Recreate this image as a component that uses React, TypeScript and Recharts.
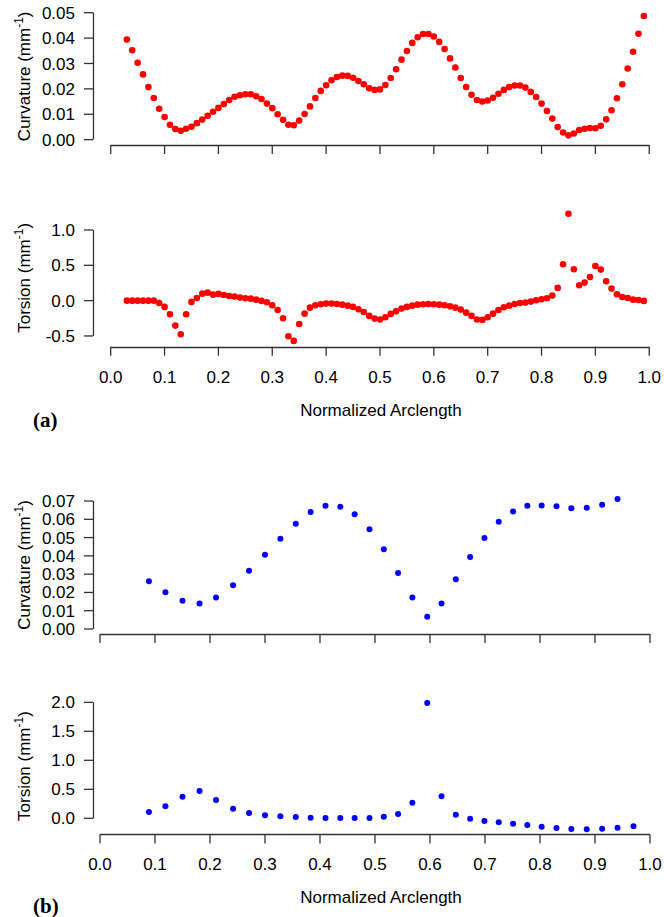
import React from "react";
import { ScatterChart, Scatter, XAxis, YAxis } from "recharts";

// (a) – sampled every 0.01 of normalized arclength
const ARC_A = [
  0.03, 0.04, 0.05, 0.06, 0.07, 0.08, 0.09, 0.1, 0.11, 0.12, 0.13, 0.14, 0.15, 0.16, 0.17, 0.18, 0.19,
  0.2, 0.21, 0.22, 0.23, 0.24, 0.25, 0.26, 0.27, 0.28, 0.29, 0.3, 0.31, 0.32, 0.33, 0.34, 0.35, 0.36,
  0.37, 0.38, 0.39, 0.4, 0.41, 0.42, 0.43, 0.44, 0.45, 0.46, 0.47, 0.48, 0.49, 0.5, 0.51, 0.52, 0.53,
  0.54, 0.55, 0.56, 0.57, 0.58, 0.59, 0.6, 0.61, 0.62, 0.63, 0.64, 0.65, 0.66, 0.67, 0.68, 0.69, 0.7,
  0.71, 0.72, 0.73, 0.74, 0.75, 0.76, 0.77, 0.78, 0.79, 0.8, 0.81, 0.82, 0.83, 0.84, 0.85, 0.86, 0.87,
  0.88, 0.89, 0.9, 0.91, 0.92, 0.93, 0.94, 0.95, 0.96, 0.97, 0.98, 0.99,
];

const CURV_A = [
  0.0394, 0.0352, 0.0303, 0.0257, 0.0207, 0.0164, 0.0122, 0.0089, 0.0059, 0.0042, 0.0035, 0.0043,
  0.0051, 0.0065, 0.0079, 0.0094, 0.011, 0.0125, 0.014, 0.0156, 0.0169, 0.0175, 0.0179, 0.0179,
  0.0171, 0.016, 0.0142, 0.0124, 0.01, 0.0078, 0.0059, 0.0057, 0.0075, 0.0101, 0.0131, 0.0164,
  0.0192, 0.0214, 0.0234, 0.0247, 0.0252, 0.0251, 0.0244, 0.0231, 0.0218, 0.0202, 0.0196, 0.0198,
  0.0215, 0.0243, 0.0277, 0.0315, 0.0349, 0.0381, 0.0403, 0.0416, 0.0416, 0.0406, 0.0385, 0.0357,
  0.032, 0.0284, 0.0243, 0.0207, 0.0177, 0.0156, 0.015, 0.0154, 0.0165, 0.0181, 0.0196, 0.0207,
  0.0213, 0.0213, 0.0205, 0.0188, 0.0168, 0.0142, 0.0113, 0.0083, 0.005, 0.0028, 0.0017, 0.0024,
  0.0038, 0.0043, 0.0046, 0.0045, 0.0055, 0.008, 0.0116, 0.0163, 0.0218, 0.028, 0.0346, 0.0417,
  0.0487,
];

const TORS_A = [
  0, 0, 0, 0, 0, 0, -0.033, -0.089, -0.193, -0.353, -0.476, -0.193, -0.018, 0.038, 0.099, 0.113,
  0.085, 0.095, 0.08, 0.066, 0.057, 0.043, 0.033, 0.028, 0.014, -0.004, -0.023, -0.066, -0.132,
  -0.25, -0.504, -0.57, -0.33, -0.184, -0.099, -0.066, -0.052, -0.042, -0.042, -0.047, -0.057,
  -0.071, -0.089, -0.122, -0.16, -0.216, -0.254, -0.268, -0.235, -0.188, -0.15, -0.113, -0.089,
  -0.071, -0.057, -0.052, -0.047, -0.052, -0.057, -0.066, -0.08, -0.099, -0.127, -0.17, -0.216,
  -0.268, -0.273, -0.235, -0.184, -0.132, -0.094, -0.071, -0.047, -0.033, -0.028, -0.014, 0.005,
  0.019, 0.033, 0.071, 0.18, 0.515, 1.23, 0.444, 0.217, 0.255, 0.335, 0.49, 0.439, 0.274, 0.17,
  0.09, 0.052, 0.038, 0.014, 0.01, -0.004,
];

// (b) – coarser sampling; torsion has one extra sample at the end
const ARC_B = [
  0.089, 0.119, 0.15, 0.181, 0.211, 0.242, 0.271, 0.3, 0.328, 0.356, 0.383, 0.41, 0.437, 0.463,
  0.49, 0.516, 0.542, 0.568, 0.595, 0.621, 0.647, 0.673, 0.699, 0.725, 0.751, 0.777, 0.803, 0.83,
  0.857, 0.885, 0.913, 0.941, 0.97,
];

const CURV_B = [
  0.0261, 0.0201, 0.0155, 0.014, 0.0173, 0.0239, 0.0319, 0.0406, 0.0494, 0.0576, 0.064, 0.0674,
  0.0669, 0.0627, 0.0545, 0.0436, 0.0306, 0.0173, 0.0067, 0.014, 0.0272, 0.0394, 0.0498, 0.0587,
  0.0642, 0.0674, 0.0676, 0.0671, 0.066, 0.0663, 0.068, 0.0711,
];

const TORS_B = [
  0.109, 0.207, 0.373, 0.471, 0.316, 0.166, 0.091, 0.052, 0.034, 0.022, 0.011, 0.005, 0.005, 0.005,
  0.005, 0.028, 0.074, 0.269, 1.99, 0.379, 0.063, -0.006, -0.047, -0.069, -0.093, -0.116, -0.144,
  -0.167, -0.184, -0.19, -0.179, -0.162, -0.138,
];

const X_TICKS = [0, 0.1, 0.2, 0.3, 0.4, 0.5, 0.6, 0.7, 0.8, 0.9, 1.0];
const CURV_A_TICKS = [0, 0.01, 0.02, 0.03, 0.04, 0.05];
const TORS_A_TICKS = [-0.5, 0, 0.5, 1.0];
const CURV_B_TICKS = [0, 0.01, 0.02, 0.03, 0.04, 0.05, 0.06, 0.07];
const TORS_B_TICKS = [0, 0.5, 1.0, 1.5, 2.0];

const AXIS = "#333";
const AXIS_W = 1.3;
const FONT = "'Liberation Sans', Arial, Helvetica, sans-serif";

const pairs = (xs: number[], ys: number[]) => ys.map((y, i) => ({ x: xs[i], y }));

// rotated axis title (mm^-1)
function YTitle({ viewBox, text }: any) {
  const cy = Number(viewBox?.y ?? 0) + Number(viewBox?.height ?? 0) / 2;
  return (
    <text transform={`translate(30,${cy}) rotate(-90)`} textAnchor="middle" fill="#000" fontSize={17}>
      {text} (mm
      <tspan dy={-7} fontSize={12}>-1</tspan>
      <tspan dy={7}>)</tspan>
    </text>
  );
}

// R-style axis lines: the x line runs from 0 to 1, the y line over the tick range.
// Drawn from the x axis box; plotH is the height of the plotting area.
function AxisLines({ viewBox, xDomain, yDomain, yTicks, plotH }: any) {
  const x0 = Number(viewBox?.x ?? 0);
  const w = Number(viewBox?.width ?? 0);
  const bottom = Number(viewBox?.y ?? 0);
  const xPx = (v: number) => x0 + ((v - xDomain[0]) / (xDomain[1] - xDomain[0])) * w;
  const yPx = (v: number) => bottom - ((v - yDomain[0]) / (yDomain[1] - yDomain[0])) * plotH;
  const hy = Math.round(bottom) + 0.5;
  const vx = Math.round(x0) + 0.5;
  return (
    <g>
      <path d={`M${xPx(0)},${hy}H${xPx(1)}`} stroke={AXIS} strokeWidth={AXIS_W} fill="none" />
      <path
        d={`M${vx},${yPx(yTicks[0])}V${yPx(yTicks[yTicks.length - 1])}`}
        stroke={AXIS}
        strokeWidth={AXIS_W}
        fill="none"
      />
    </g>
  );
}

interface PanelProps {
  top: number;
  height: number;
  margin: { top: number; right: number; bottom: number; left: number };
  xAxisHeight: number;
  xDomain: [number, number];
  yDomain: [number, number];
  yTicks: number[];
  yDigits: number;
  data: { x: number; y: number }[];
  color: string;
  r: number;
  ylab: string;
  showX: boolean;
}

function Panel(p: PanelProps) {
  const plotH = p.height - p.margin.top - p.margin.bottom - p.xAxisHeight;
  return (
    <div style={{ position: "absolute", left: 0, top: p.top }}>
      <ScatterChart width={664} height={p.height} margin={p.margin}>
        <XAxis
          type="number"
          dataKey="x"
          domain={p.xDomain}
          ticks={X_TICKS}
          interval={0}
          allowDataOverflow
          height={p.xAxisHeight}
          axisLine={false}
          tickLine={{ stroke: AXIS, strokeWidth: AXIS_W }}
          tickSize={9}
          tickMargin={15}
          tick={p.showX ? { fill: "#000", fontSize: 17 } : () => <g />}
          tickFormatter={(v: number) => v.toFixed(1)}
          label={{
            content: (lp: any) => (
              <AxisLines
                viewBox={lp.viewBox}
                xDomain={p.xDomain}
                yDomain={p.yDomain}
                yTicks={p.yTicks}
                plotH={plotH}
              />
            ),
          }}
        />
        <YAxis
          type="number"
          dataKey="y"
          domain={p.yDomain}
          ticks={p.yTicks}
          interval={0}
          allowDataOverflow
          width={60}
          axisLine={false}
          tickLine={{ stroke: AXIS, strokeWidth: AXIS_W }}
          tickSize={9}
          tickMargin={9}
          tick={{ fill: "#000", fontSize: 17 }}
          tickFormatter={(v: number) => v.toFixed(p.yDigits)}
          label={{ content: (lp: any) => <YTitle viewBox={lp.viewBox} text={p.ylab} /> }}
        />
        <Scatter
          data={p.data}
          isAnimationActive={false}
          shape={(s: any) => <circle cx={s.cx} cy={s.cy} r={p.r} fill={p.color} />}
        />
      </ScatterChart>
    </div>
  );
}

const textStyle: React.CSSProperties = { position: "absolute", whiteSpace: "nowrap" };
const titleStyle: React.CSSProperties = {
  ...textStyle,
  left: 281,
  width: 200,
  fontSize: 17,
  lineHeight: "20px",
  textAlign: "center",
};
const tagStyle: React.CSSProperties = {
  ...textStyle,
  left: 33,
  fontSize: 21,
  lineHeight: "26px",
  fontWeight: "bold",
  fontFamily: "'Liberation Serif', 'Times New Roman', serif",
};

export default function App() {
  return (
    <div style={{ position: "relative", width: 664, height: 917, background: "#fff", fontFamily: FONT, overflow: "hidden" }}>
      <style>{"body{margin:0}"}</style>

      <Panel
        top={0}
        height={175}
        margin={{ top: 7.6, right: 4, bottom: 0, left: 33 }}
        xAxisHeight={30}
        xDomain={[-0.0329, 1.02]}
        yDomain={[-0.0021, 0.052]}
        yTicks={CURV_A_TICKS}
        yDigits={2}
        data={pairs(ARC_A, CURV_A)}
        color="#ff0000"
        r={3.3}
        ylab="Curvature"
        showX={false}
      />
      <Panel
        top={190}
        height={240}
        margin={{ top: 19, right: 4, bottom: 43.3, left: 33 }}
        xAxisHeight={40}
        xDomain={[-0.0329, 1.02]}
        yDomain={[-0.652, 1.297]}
        yTicks={TORS_A_TICKS}
        yDigits={1}
        data={pairs(ARC_A, TORS_A)}
        color="#ff0000"
        r={3.3}
        ylab="Torsion"
        showX
      />
      <div style={{ ...titleStyle, top: 401 }}>Normalized Arclength</div>
      <div style={{ ...tagStyle, top: 407 }}>(a)</div>

      <Panel
        top={470}
        height={200}
        margin={{ top: 25.9, right: 4, bottom: 0, left: 33 }}
        xAxisHeight={36}
        xDomain={[-0.0127, 1.0182]}
        yDomain={[-0.00273, 0.0728]}
        yTicks={CURV_B_TICKS}
        yDigits={2}
        data={pairs(ARC_B, CURV_B)}
        color="#0000ff"
        r={3}
        ylab="Curvature"
        showX={false}
      />
      <Panel
        top={680}
        height={237}
        margin={{ top: 17.7, right: 4, bottom: 42.6, left: 33 }}
        xAxisHeight={40}
        xDomain={[-0.0127, 1.0182]}
        yDomain={[-0.2776, 2.0797]}
        yTicks={TORS_B_TICKS}
        yDigits={1}
        data={pairs(ARC_B, TORS_B)}
        color="#0000ff"
        r={3}
        ylab="Torsion"
        showX
      />
      <div style={{ ...titleStyle, top: 888 }}>Normalized Arclength</div>
      <div style={{ ...tagStyle, top: 893 }}>(b)</div>
    </div>
  );
}
